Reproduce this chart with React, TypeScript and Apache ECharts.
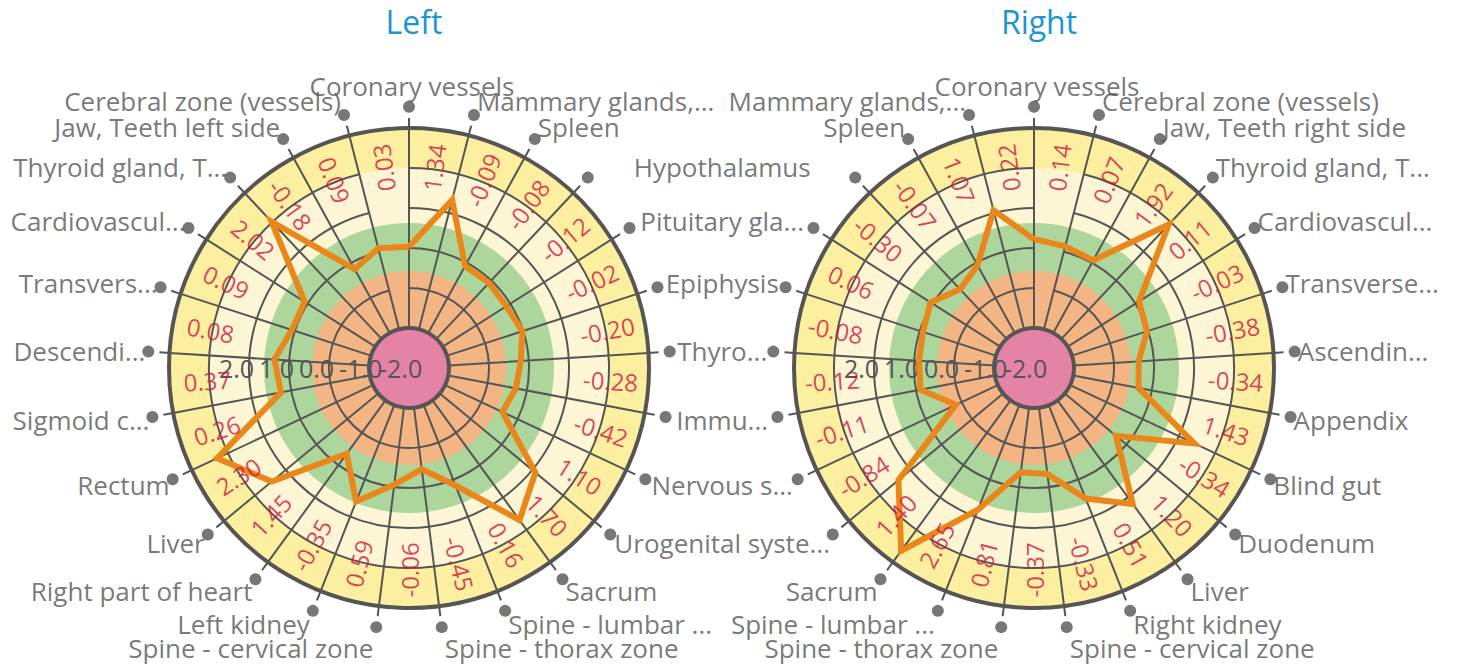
import React, { useEffect, useRef } from 'react';
import * as echarts from 'echarts';

// ---------- data ----------
const TITLES = ['Left', 'Right'];

const LEFT_CATEGORIES = [
  'Coronary vessels', 'Mammary glands,...', 'Spleen', 'Hypothalamus', 'Pituitary gla...',
  'Epiphysis', 'Thyro...', 'Immu...', 'Nervous s...', 'Urogenital syste...',
  'Sacrum', 'Spine - lumbar ...', 'Spine - thorax zone', 'Spine - cervical zone', 'Left kidney',
  'Right part of heart', 'Liver', 'Rectum', 'Sigmoid c...', 'Descendi...',
  'Transvers...', 'Cardiovascul...', 'Thyroid gland, T...', 'Jaw, Teeth left side', 'Cerebral zone (vessels)',
];
const LEFT_VALUES = [
  0.03, 1.34, -0.09, -0.08, -0.12, -0.02, -0.20, -0.28, -0.42, 1.10,
  1.70, 0.16, -0.45, -0.06, 0.59, -0.35, 1.45, 2.30, 0.26, 0.37,
  0.08, 0.09, 2.02, -0.18, 0.09,
];

const RIGHT_CATEGORIES = [
  'Coronary vessels', 'Mammary glands,...', 'Spleen', 'Hypothalamus', 'Pituitary gla...',
  'Epiphysis', 'Thyro...', 'Immu...', 'Nervous s...', 'Urogenital syste...',
  'Sacrum', 'Spine - lumbar ...', 'Spine - thorax zone', 'Spine - cervical zone', 'Right kidney',
  'Liver', 'Duodenum', 'Blind gut', 'Appendix', 'Ascendin...',
  'Transverse...', 'Cardiovascul...', 'Thyroid gland, T...', 'Jaw, Teeth right side', 'Cerebral zone (vessels)',
];
const RIGHT_VALUES = [
  0.22, 1.07, -0.07, -0.30, 0.06, -0.08, -0.12, -0.11, -0.84, 1.40,
  2.65, 0.81, -0.37, -0.33, 0.51, 1.20, -0.34, 1.43, -0.34, -0.38,
  -0.03, 0.11, 1.92, 0.07, 0.14,
];

// radius axis: grid from -2 (inner ring) to 3 (outer ring); labels -2 … 2
const RADIUS_TICKS = [-2, -1, 0, 1, 2, 3];
const RADIUS_LABEL_RANGE = [-3, 3];

// ---------- layout / style ----------
const CX = [409, 1034];
const CY = 368;
const R_INNER = 40;
const R_OUTER = 240;
const N = LEFT_CATEGORIES.length;
const STEP = 360 / N;
const VALUE_LABEL_R = 2.05;
const DOT_R = 3.53;
const DOT_PX = 261;
const MID_X = 722;
const SHARED_IDX = [3, 4, 5, 6, 7, 8, 9];

const FONT = 'Open Sans';
const GREY = '#555555';
const RED = '#d3143f';
const ORANGE_LINE = '#ea871b';
const BANDS = [
  { r: 240, color: '#fcef9f' },
  { r: 200, color: '#fcf6d5' },
  { r: 145, color: '#acd69c' },
  { r: 97, color: '#f3b584' },
  { r: 40, color: '#e583a6' },
];

function readableRotate(theta: number) {
  let t = (((theta % 360) + 540) % 360) - 180;
  if (t > 100) t -= 180;
  else if (t <= -89.5) t += 180;
  return t;
}

function catLabel(side: number, i: number) {
  const a = (side === 0 ? 1 : -1) * i * STEP;
  const s = Math.sin((a * Math.PI) / 180);
  const c = Math.cos((a * Math.PI) / 180);
  const shared = SHARED_IDX.includes(i);
  if (shared && side === 1) return { show: false };
  let align = Math.abs(s) < 0.05 ? 'center' : s > 0 ? 'left' : 'right';
  let dx = align === 'left' ? 3 : align === 'right' ? -3 : 3;
  if (shared) {
    align = 'center';
    dx = MID_X - (CX[0] + DOT_PX * s);
  }
  const dy = -14 * c - (Math.abs(c) > 0.98 ? 7 * Math.sign(c) : 0);
  return { show: true, align, verticalAlign: 'middle', offset: [dx, dy] };
}

function buildOption() {
  const polar: any[] = [];
  const angleAxis: any[] = [];
  const radiusAxis: any[] = [];
  const series: any[] = [];
  const graphic: any[] = [];

  [0, 1].forEach((side) => {
    const cats = side === 0 ? LEFT_CATEGORIES : RIGHT_CATEGORIES;
    const vals = side === 0 ? LEFT_VALUES : RIGHT_VALUES;
    const clockwise = side === 0;
    const cx = CX[side];
    const base = side * 4;

    polar.push({ center: [cx, CY], radius: [R_INNER, R_OUTER] }); // grid + dots
    polar.push({ center: [cx, CY], radius: [R_INNER, R_OUTER] }); // value labels
    polar.push({ center: [cx, CY], radius: [0, R_OUTER] }); // radius tick labels
    polar.push({ center: [cx, CY], radius: [R_INNER, R_OUTER] }); // closed line

    // 0: main grid polar
    angleAxis.push({
      polarIndex: base,
      type: 'category',
      data: cats,
      startAngle: 90,
      clockwise,
      boundaryGap: false,
      axisLine: { show: true, lineStyle: { color: GREY, width: 4 } },
      axisTick: { show: true, length: 10, lineStyle: { color: GREY, width: 2 } },
      axisLabel: { show: false },
      splitLine: { show: true, lineStyle: { color: GREY, width: 2 } },
    });
    radiusAxis.push({
      polarIndex: base,
      type: 'value',
      min: RADIUS_TICKS[0],
      max: RADIUS_TICKS[RADIUS_TICKS.length - 1],
      interval: 1,
      axisLine: { show: false },
      axisTick: { show: false },
      axisLabel: { show: false },
      splitLine: { show: true, lineStyle: { color: GREY, width: 2 } },
    });

    // 1: value-label polar (offset by half a sector)
    angleAxis.push({
      polarIndex: base + 1,
      type: 'category',
      data: cats,
      startAngle: 90 + STEP / 2,
      clockwise,
      boundaryGap: false,
      show: false,
    });
    radiusAxis.push({
      polarIndex: base + 1,
      type: 'value',
      min: RADIUS_TICKS[0],
      max: RADIUS_TICKS[RADIUS_TICKS.length - 1],
      show: false,
    });

    // 2: radius tick label polar (axis pointing left)
    angleAxis.push({
      polarIndex: base + 2,
      type: 'value',
      min: 0,
      max: 360,
      startAngle: 180,
      show: false,
    });
    radiusAxis.push({
      polarIndex: base + 2,
      type: 'value',
      min: RADIUS_LABEL_RANGE[0],
      max: RADIUS_LABEL_RANGE[1],
      interval: 1,
      z: 1,
      axisLine: { show: false },
      axisTick: { show: false },
      splitLine: { show: false },
      axisLabel: {
        show: true,
        showMaxLabel: false,
        showMinLabel: false,
        hideOverlap: false,
        margin: 0,
        align: 'left',
        verticalAlign: 'middle',
        padding: [8, 0, 0, 10],
        color: GREY,
        fontSize: 25,
        fontFamily: FONT,
        formatter: (v: number) => v.toFixed(1),
      },
    });

    // 3: line polar (angle as value so the ring can close)
    angleAxis.push({
      polarIndex: base + 3,
      type: 'value',
      min: 0,
      max: N,
      startAngle: 90,
      clockwise,
      show: false,
    });
    radiusAxis.push({
      polarIndex: base + 3,
      type: 'value',
      min: RADIUS_TICKS[0],
      max: RADIUS_TICKS[RADIUS_TICKS.length - 1],
      show: false,
    });

    // background bands
    BANDS.forEach((b, j) => {
      graphic.push({
        type: 'circle',
        silent: true,
        z: -20 + j,
        shape: { cx, cy: CY, r: b.r },
        style: { fill: b.color },
      });
    });

    // line
    series.push({
      type: 'line',
      coordinateSystem: 'polar',
      polarIndex: base + 3,
      data: vals.map((v, i) => [v, i]).concat([[vals[0], N]]),
      symbol: 'none',
      showSymbol: false,
      clip: false,
      silent: true,
      z: 5,
      lineStyle: { color: ORANGE_LINE, width: 6, join: 'miter', miterLimit: 10 },
    });

    // value labels
    series.push({
      type: 'scatter',
      coordinateSystem: 'polar',
      polarIndex: base + 1,
      symbolSize: 1,
      clip: false,
      silent: true,
      z: 6,
      itemStyle: { color: 'rgba(0,0,0,0)' },
      data: vals.map((v, i) => ({
        value: [VALUE_LABEL_R, i],
        label: { rotate: readableRotate(90 + STEP / 2 + (clockwise ? -1 : 1) * i * STEP) },
      })),
      label: {
        show: true,
        position: 'inside',
        align: 'center',
        verticalAlign: 'middle',
        color: RED,
        fontSize: 24,
        fontFamily: FONT,
        textBorderWidth: 0,
        formatter: (p: any) => vals[p.dataIndex].toFixed(2),
      },
    });

    // category dots + names
    series.push({
      type: 'scatter',
      coordinateSystem: 'polar',
      polarIndex: base,
      symbol: 'circle',
      symbolSize: 12,
      clip: false,
      silent: true,
      z: 7,
      itemStyle: { color: GREY },
      data: cats.map((c, i) => ({ value: [DOT_R, i], label: catLabel(side, i) })),
      label: {
        show: true,
        position: 'inside',
        color: GREY,
        fontSize: 26,
        fontFamily: FONT,
        textBorderWidth: 0,
        formatter: (p: any) => cats[p.dataIndex],
      },
    });
  });

  return {
    animation: false,
    backgroundColor: '#ffffff',
    textStyle: { fontFamily: FONT },
    title: TITLES.map((t, k) => ({
      text: t,
      left: CX[k],
      top: 0,
      textAlign: 'center',
      textStyle: { color: '#1b95d3', fontSize: 32, fontWeight: 'normal', fontFamily: FONT },
    })),
    polar,
    angleAxis,
    radiusAxis,
    graphic,
    series,
  };
}

export default function App() {
  const ref = useRef<HTMLDivElement>(null);
  useEffect(() => {
    if (!ref.current) return;
    const chart = echarts.init(ref.current, null, { renderer: 'svg' });
    chart.setOption(buildOption() as any);
    return () => chart.dispose();
  }, []);
  return (
    <div
      ref={ref}
      style={{ position: 'fixed', left: 0, top: 0, width: 1461, height: 669, background: '#fff' }}
    />
  );
}
